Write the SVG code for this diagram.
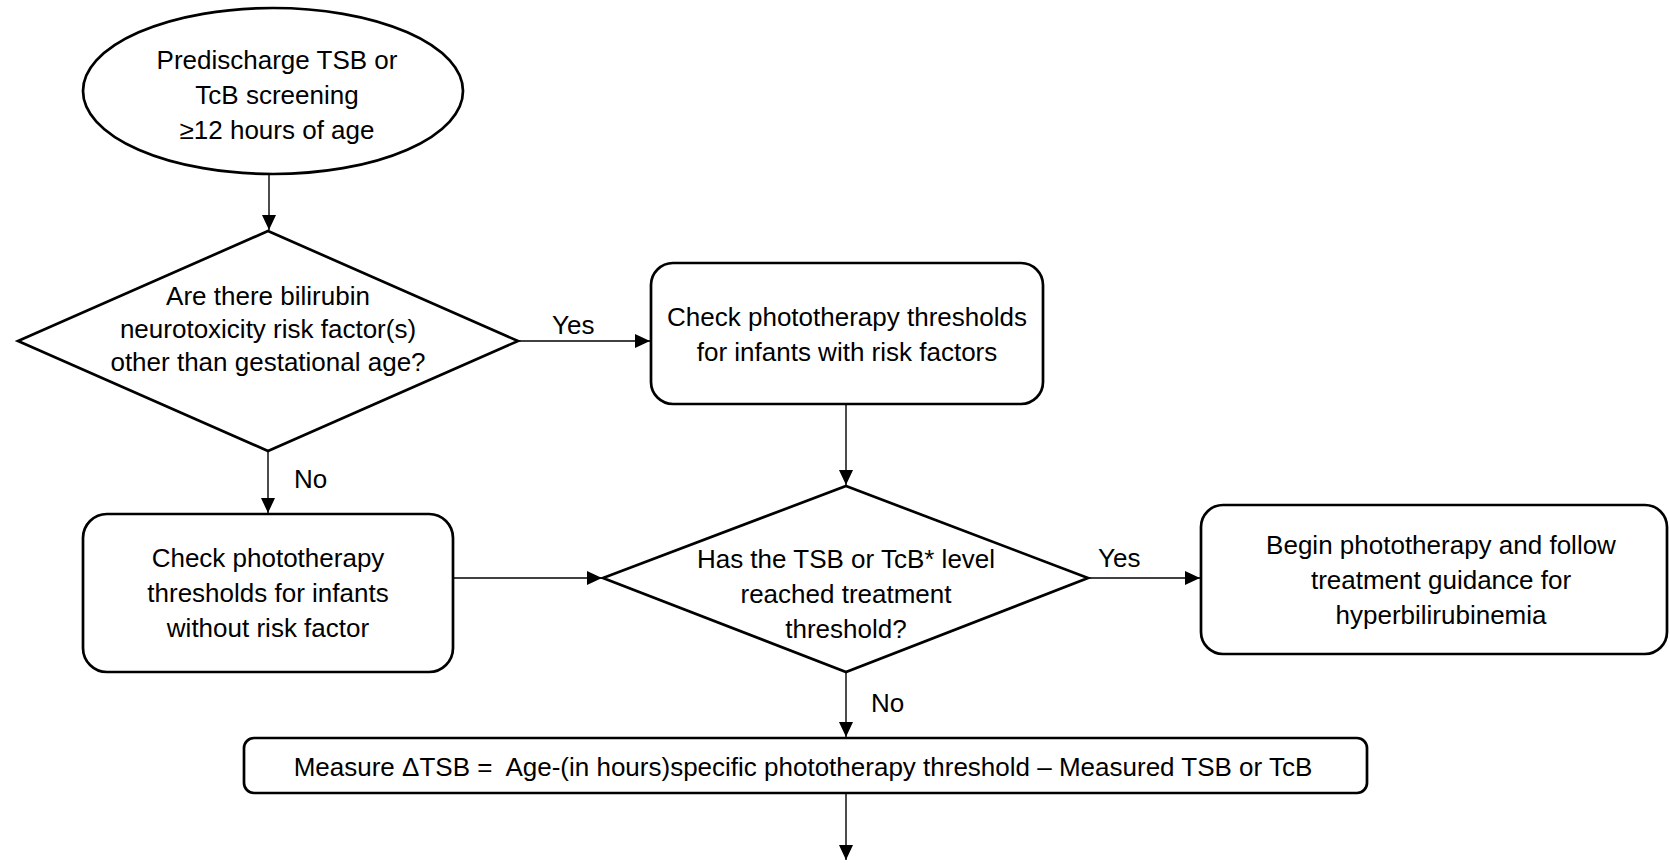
<svg xmlns="http://www.w3.org/2000/svg" width="1670" height="863" viewBox="0 0 1670 863">
<style>
.shape{fill:#fff;stroke:#000;stroke-width:2.7}
.conn{fill:none;stroke:#000;stroke-width:1.4}
text{font-family:"Liberation Sans",Arial,sans-serif;font-size:26px;fill:#000;white-space:pre}
.c{text-anchor:middle}
</style>
<defs>
<marker id="arr" markerUnits="userSpaceOnUse" markerWidth="16" markerHeight="14" refX="15" refY="7" orient="auto">
<path d="M0,0 L15,7 L0,14 z" fill="#000"/>
</marker>
</defs>
<rect width="1670" height="863" fill="#fff"/>
<g id="connectors">
<line class="conn" x1="269" y1="174" x2="269" y2="230" marker-end="url(#arr)"/>
<line class="conn" x1="518" y1="341" x2="650" y2="341" marker-end="url(#arr)"/>
<text x="552" y="334">Yes</text>
<line class="conn" x1="268" y1="451" x2="268" y2="513" marker-end="url(#arr)"/>
<text x="294" y="488">No</text>
<line class="conn" x1="846" y1="404" x2="846" y2="485" marker-end="url(#arr)"/>
<line class="conn" x1="453" y1="578" x2="602" y2="578" marker-end="url(#arr)"/>
<line class="conn" x1="1088" y1="578" x2="1200" y2="578" marker-end="url(#arr)"/>
<text x="1098" y="567">Yes</text>
<line class="conn" x1="846" y1="672" x2="846" y2="737" marker-end="url(#arr)"/>
<text x="871" y="712">No</text>
<line class="conn" x1="846" y1="793" x2="846" y2="860" marker-end="url(#arr)"/>
</g>
<g id="start">
<ellipse class="shape" cx="273" cy="91" rx="190" ry="83"/>
<text class="c" x="277" y="69">Predischarge TSB or</text>
<text class="c" x="277" y="104">TcB screening</text>
<text class="c" x="277" y="139">≥12 hours of age</text>
</g>
<g id="decision-risk">
<polygon class="shape" points="268,231 518,341 268,451 18,341"/>
<text class="c" x="268" y="305">Are there bilirubin</text>
<text class="c" x="268" y="338">neurotoxicity risk factor(s)</text>
<text class="c" x="268" y="371">other than gestational age?</text>
</g>
<g id="with-risk">
<rect class="shape" x="651" y="263" width="392" height="141" rx="22"/>
<text class="c" x="847" y="326">Check phototherapy thresholds</text>
<text class="c" x="847" y="361">for infants with risk factors</text>
</g>
<g id="without-risk">
<rect class="shape" x="83" y="514" width="370" height="158" rx="24"/>
<text class="c" x="268" y="567">Check phototherapy</text>
<text class="c" x="268" y="602">thresholds for infants</text>
<text class="c" x="268" y="637">without risk factor</text>
</g>
<g id="decision-threshold">
<polygon class="shape" points="846,486 1088,578 846,672 603,578"/>
<text class="c" x="846" y="568">Has the TSB or TcB* level</text>
<text class="c" x="846" y="603">reached treatment</text>
<text class="c" x="846" y="638">threshold?</text>
</g>
<g id="begin-phototherapy">
<rect class="shape" x="1201" y="505" width="466" height="149" rx="22"/>
<text class="c" x="1441" y="554">Begin phototherapy and follow</text>
<text class="c" x="1441" y="589">treatment guidance for</text>
<text class="c" x="1441" y="624">hyperbilirubinemia</text>
</g>
<g id="measure">
<rect class="shape" x="244" y="738" width="1123" height="55" rx="10"/>
<text class="c" x="803" y="776">Measure ΔTSB =  Age-(in hours)specific phototherapy threshold – Measured TSB or TcB</text>
</g>
</svg>
